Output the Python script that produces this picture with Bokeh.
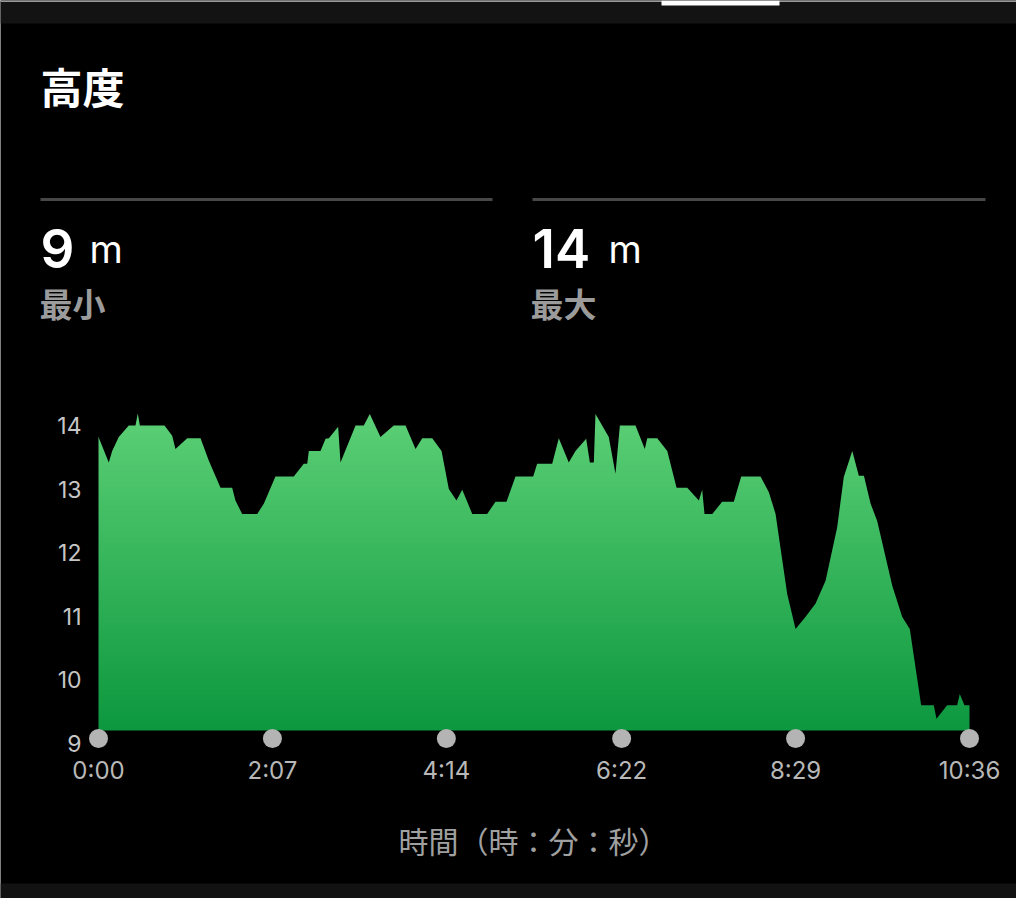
import numpy as np
from bokeh.plotting import figure
from bokeh.models import LinearAxis, FixedTicker, Label, Range1d
from bokeh.embed import file_html
from bokeh.resources import INLINE

# ---------------- data ----------------
time_s = [0, 7.5, 10, 14.8, 22.1, 27, 28.7, 30.2, 48.2, 53.8, 56.2, 64.8, 74.5, 80.5,
          89.1, 97.6, 100, 104.9, 115.9, 120.7, 129.2, 142.6, 149.9, 152.4, 153.6, 162.1,
          165.8, 168.2, 175, 176.7, 187.7, 193.7, 198.1, 205.9, 215.6, 224.2, 231.5, 236.4,
          243.7, 250.5, 255.8, 261.4, 265.6, 272.9, 283.8, 289.9, 297.9, 304.5, 317.4, 320.3,
          331.3, 336.1, 343.4, 348.3, 356.1, 358.8, 361.7, 362.9, 372.6, 377.5, 380.7, 392.1,
          398.9, 400.7, 408, 415.3, 422.1, 429.9, 438.4, 440.8, 442.5, 448.2, 455.4, 463.9,
          469.3, 483.4, 489.5, 494.4, 497.2, 502.9, 509, 516.2, 523.6, 530.9, 539.4, 544.2,
          550.4, 555.2, 558.9, 563.8, 568.6, 579.6, 586.9, 592.4, 600.7, 609.9, 611.9, 619.7,
          627, 628.9, 632.3, 636]
elev_m = [13.82, 13.42, 13.6, 13.82, 14.0, 14.0, 14.19, 14.0, 14.0, 13.84, 13.63, 13.8, 13.8, 13.45,
          13.02, 13.02, 12.82, 12.61, 12.61, 12.77, 13.2, 13.2, 13.4, 13.4, 13.6, 13.6,
          13.79, 13.8, 13.98, 13.42, 14.0, 14.0, 14.18, 13.82, 14.0, 14.0, 13.63, 13.8,
          13.8, 13.6, 13.0, 12.82, 12.99, 12.61, 12.61, 12.8, 12.8, 13.2, 13.2, 13.4,
          13.4, 13.8, 13.42, 13.6, 13.79, 13.42, 13.42, 14.18, 13.82, 13.24, 14.0, 14.0,
          13.63, 13.8, 13.8, 13.6, 13.02, 13.02, 12.82, 12.99, 12.61, 12.61, 12.8, 12.8,
          13.2, 13.2, 12.95, 12.61, 12.19, 11.35, 10.8, 10.99, 11.2, 11.56, 12.4, 13.19,
          13.6, 13.21, 13.21, 12.77, 12.5, 11.48, 10.99, 10.8, 9.6, 9.6, 9.39, 9.6,
          9.6, 9.78, 9.6, 9.6]
x_ticks = [0, 127, 254, 382, 509, 636]
x_tick_labels = ["0:00", "2:07", "4:14", "6:22", "8:29", "10:36"]
y_ticks = [9, 10, 11, 12, 13, 14]
title_text = "高度"
stat_values = ["9", "14"]
stat_unit = "m"
stat_names = ["最小", "最大"]
x_axis_title = "時間（時：分：秒）"

# ---------------- layout (pixels inside the figure) ----------------
W, H = 1016, 898
X0_PX, X1_PX = 98, 969      # t = 0 and t = end
Y14_PX, Y9_PX = 425, 743    # value 14 and value 9
t_end = x_ticks[-1]
sx = (X1_PX - X0_PX) / t_end
sy = (Y9_PX - Y14_PX) / (y_ticks[-1] - y_ticks[0])


def dx(px):
    return (px - X0_PX) / sx


def dy(py):
    return y_ticks[-1] - (py - Y14_PX) / sy


LATIN = "Inter"
LATIN_MED = "'Inter SemiBold', 'Inter Medium', Inter"
CJK = "Noto Sans CJK JP"

p = figure(width=W, height=H,
           x_range=Range1d(dx(0), dx(W)), y_range=Range1d(dy(H), dy(0)),
           x_axis_type=None, y_axis_type=None,
           toolbar_location=None, output_backend="svg", min_border=0,
           background_fill_color="black", border_fill_color="black",
           outline_line_color=None)

# header / footer bars
p.quad(left=dx(0), right=dx(W), top=dy(0), bottom=dy(23), color="#131313", line_width=0)
p.quad(left=dx(0), right=dx(W), top=dy(0), bottom=dy(1.5), color="#9a9a9a", line_width=0)
p.quad(left=dx(661), right=dx(779), top=dy(0), bottom=dy(5), color="white", line_width=0)
p.quad(left=dx(0), right=dx(W), top=dy(883), bottom=dy(H), color="#121212", line_width=0)

# gradient area: gradient image, then a black mask above the profile
base = dy(730)
img_top = 14.35
n = 256
top_c = np.array([0x5f, 0xd2, 0x78], dtype=float)
bot_c = np.array([0x0d, 0x98, 0x3f], dtype=float)
frac = np.linspace(0, 1, n)[:, None]
rgb = bot_c + (top_c - bot_c) * frac
img = np.empty((n, 2), dtype=np.uint32)
view = img.view(dtype=np.uint8).reshape((n, 2, 4))
for k in range(3):
    view[:, :, k] = rgb[:, k][:, None].astype(np.uint8)
view[:, :, 3] = 255
p.image_rgba(image=[img], x=0, y=base, dw=t_end, dh=img_top - base)
mask_x = [time_s[0] - 10] + time_s + [time_s[-1] + 10]
mask_y = [elev_m[0]] + elev_m + [elev_m[-1]]
p.varea(x=mask_x, y1=mask_y, y2=img_top + 0.2, fill_color="black")

# x tick dots
p.scatter(x=x_ticks, y=[dy(738)] * len(x_ticks), size=19, color="#b4b4b4", line_width=0)

# axes
ya = LinearAxis(fixed_location=0, ticker=FixedTicker(ticks=y_ticks))
ya.axis_line_color = None
ya.major_tick_line_color = None
ya.minor_tick_line_color = None
ya.major_label_standoff = 11
ya.major_label_text_font = LATIN
ya.major_label_text_font_size = "23px"
ya.major_label_text_color = "#c6c6c6"
p.add_layout(ya, "left")

xa = LinearAxis(fixed_location=y_ticks[0], ticker=FixedTicker(ticks=x_ticks),
                major_label_overrides=dict(zip(x_ticks, x_tick_labels)))
xa.axis_line_color = None
xa.major_tick_line_color = None
xa.minor_tick_line_color = None
xa.major_label_standoff = 6
xa.major_label_text_font = LATIN
xa.major_label_text_font_size = "24px"
xa.major_label_text_color = "#b8b8b8"
p.add_layout(xa, "below")

# separator lines
p.segment(x0=[dx(40), dx(532)], x1=[dx(492), dx(985)], y0=dy(199), y1=dy(199),
          line_color="#484848", line_width=3)

# texts
p.add_layout(Label(x=dx(40), y=dy(85), text=title_text, text_font=CJK,
                   text_font_size="42px", text_font_style="bold", text_color="white",
                   text_baseline="middle", text_align="left"))

for i, (sxp, uxp, nxp) in enumerate([(40, 89, 39), (532, 608, 530)]):
    p.add_layout(Label(x=dx(sxp), y=dy(248), text=stat_values[i], text_font=LATIN_MED,
                       text_font_size="53px", text_color="white",
                       text_baseline="alphabetic", text_align="left"))
    p.add_layout(Label(x=dx(uxp), y=dy(248), text=stat_unit, text_font=LATIN,
                       text_font_size="38px", text_color="white",
                       text_baseline="alphabetic", text_align="left"))
    p.add_layout(Label(x=dx(nxp), y=dy(302), text=stat_names[i], text_font=CJK,
                       text_font_size="33px", text_font_style="bold", text_color="#9b9b9b",
                       text_baseline="middle", text_align="left"))

p.add_layout(Label(x=dx(533), y=dy(839), text=x_axis_title, text_font=CJK,
                   text_font_size="30px", text_color="#a0a0a0",
                   text_baseline="middle", text_align="center"))

open("out.html", "w").write(file_html(p, INLINE))
